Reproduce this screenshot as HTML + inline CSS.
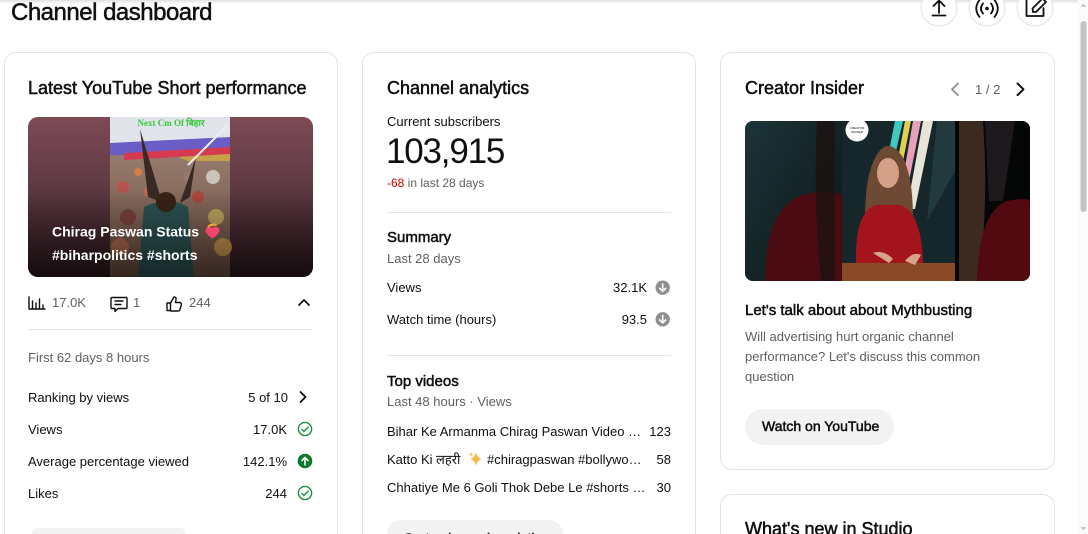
<!DOCTYPE html>
<html><head><meta charset="utf-8">
<style>
*{margin:0;padding:0;box-sizing:border-box}
html,body{width:1088px;height:534px;overflow:hidden;background:#fff}
body{position:relative;font-family:"Liberation Sans","Noto Sans CJK SC",sans-serif;color:#0f0f0f}
.t{position:absolute;white-space:nowrap;line-height:1}
.m{-webkit-text-stroke:0.5px currentColor}
.g{color:#606060}
.card{position:absolute;border:1px solid #e3e3e3;border-radius:12px;background:#fff}
.open{border-bottom:none;border-bottom-left-radius:0;border-bottom-right-radius:0}
.dv{position:absolute;height:1px;background:#e5e5e5}
.btn{position:absolute;background:#f2f2f2;border-radius:18px}
.clipb{position:absolute;overflow:hidden;border-radius:18px 18px 0 0;background:#f2f2f2}
#ov{position:absolute;left:0;top:0}
</style></head><body>

<div class="card open" style="left:4px;top:52px;width:334px;height:482px"></div>
<div class="card open" style="left:362px;top:52px;width:334px;height:482px"></div>
<div class="card" style="left:720px;top:52px;width:335px;height:418px"></div>
<div class="card open" style="left:720px;top:494px;width:335px;height:40px"></div>

<!-- header -->
<div class="t m" style="left:11px;top:1px;font-size:24px;letter-spacing:-0.5px">Channel dashboard</div>

<!-- Card 1 -->
<div class="t m" style="left:28px;top:79px;font-size:18px">Latest YouTube Short performance</div>
<div class="t g" style="left:52px;top:295.5px;font-size:13px">17.0K</div>
<div class="t g" style="left:133px;top:295.5px;font-size:13px">1</div>
<div class="t g" style="left:189px;top:295.5px;font-size:13px">244</div>
<div class="dv" style="left:28px;top:329px;width:285px"></div>
<div class="t g" style="left:28px;top:350.5px;font-size:13px">First 62 days 8 hours</div>
<div class="t" style="left:28px;top:390.5px;font-size:13px">Ranking by views</div>
<div class="t" style="right:800px;top:390.5px;font-size:13px">5 of 10</div>
<div class="t" style="left:28px;top:422.5px;font-size:13px">Views</div>
<div class="t" style="right:801px;top:422.5px;font-size:13px">17.0K</div>
<div class="t" style="left:28px;top:454.5px;font-size:13px">Average percentage viewed</div>
<div class="t" style="right:801px;top:454.5px;font-size:13px">142.1%</div>
<div class="t" style="left:28px;top:486.5px;font-size:13px">Likes</div>
<div class="t" style="right:801px;top:486.5px;font-size:13px">244</div>
<div class="clipb" style="left:32px;top:528px;width:154px;height:6px"></div>

<!-- Card 2 -->
<div class="t m" style="left:387px;top:79px;font-size:18px">Channel analytics</div>
<div class="t" style="left:387px;top:114.5px;font-size:13px">Current subscribers</div>
<div class="t" style="left:386px;top:133.5px;font-size:35px;letter-spacing:-1.2px">103,915</div>
<div class="t g" style="left:387px;top:177px;font-size:12px"><span style="color:#cc0000">-68</span> in last 28 days</div>
<div class="dv" style="left:387px;top:212px;width:284px"></div>
<div class="t m" style="left:387px;top:230px;font-size:15px">Summary</div>
<div class="t g" style="left:387px;top:251.8px;font-size:13px">Last 28 days</div>
<div class="t" style="left:387px;top:281.2px;font-size:13px">Views</div>
<div class="t" style="right:441px;top:281.2px;font-size:13px">32.1K</div>
<div class="t" style="left:387px;top:312.8px;font-size:13px">Watch time (hours)</div>
<div class="t" style="right:441px;top:312.8px;font-size:13px">93.5</div>
<div class="dv" style="left:387px;top:355px;width:284px"></div>
<div class="t m" style="left:387px;top:373.5px;font-size:15px">Top videos</div>
<div class="t g" style="left:387px;top:395.2px;font-size:13px">Last 48 hours · Views</div>
<div class="t" style="left:387px;top:425.2px;font-size:13px">Bihar Ke Armanma Chirag Paswan Video …</div>
<div class="t" style="right:417px;top:425.2px;font-size:13px">123</div>
<div class="t" style="left:387px;top:452.8px;font-size:13px">Katto Ki</div>
<div class="t" style="left:436px;top:452.8px;font-size:13px">लहरी</div>
<div class="t" style="left:487px;top:452.8px;font-size:13px">#chiragpaswan #bollywo…</div>
<div class="t" style="right:417px;top:452.8px;font-size:13px">58</div>
<div class="t" style="left:387px;top:480.8px;font-size:13px">Chhatiye Me 6 Goli Thok Debe Le #shorts …</div>
<div class="t" style="right:417px;top:480.8px;font-size:13px">30</div>
<div class="clipb" style="left:387px;top:520px;width:176px;height:14px">
  <div class="t m" style="left:16px;top:11px;font-size:14px">Go to channel analytics</div>
</div>

<!-- Card 3 -->
<div class="t m" style="left:745px;top:79px;font-size:18px">Creator Insider</div>
<div class="t g" style="left:975px;top:82.5px;font-size:13px">1 / 2</div>
<div class="t m" style="left:745px;top:302.5px;font-size:15px">Let's talk about about Mythbusting</div>
<div class="t g" style="left:745px;top:329.5px;font-size:13px">Will advertising hurt organic channel</div>
<div class="t g" style="left:745px;top:350px;font-size:13px">performance? Let's discuss this common</div>
<div class="t g" style="left:745px;top:370px;font-size:13px">question</div>
<div class="btn" style="left:745px;top:409px;width:149px;height:36px"></div>
<div class="t m" style="left:762px;top:419px;font-size:14px">Watch on YouTube</div>
<div style="position:absolute;left:745px;top:518px;width:300px;height:16px;overflow:hidden">
  <div class="t m" style="left:0;top:2px;font-size:18px">What's new in Studio</div>
</div>

<svg id="ov" width="1088" height="534" viewBox="0 0 1088 534">
<defs>
  <linearGradient id="topsh" x1="0" y1="0" x2="0" y2="1">
    <stop offset="0" stop-color="#000" stop-opacity=".12"/><stop offset="1" stop-color="#000" stop-opacity="0"/>
  </linearGradient>
  <linearGradient id="mar" x1="0" y1="0" x2="0" y2="1">
    <stop offset="0" stop-color="#7c4a55"/><stop offset=".5" stop-color="#5b3740"/><stop offset="1" stop-color="#2a171b"/>
  </linearGradient>
  <linearGradient id="crowd" x1="0" y1="0" x2="0" y2="1">
    <stop offset="0" stop-color="#a48a7c"/><stop offset="1" stop-color="#6a4d40"/>
  </linearGradient>
  <linearGradient id="shade" x1="0" y1="0" x2="0" y2="1">
    <stop offset="0" stop-color="#000" stop-opacity="0"/><stop offset="1" stop-color="#000" stop-opacity=".5"/>
  </linearGradient>
  <linearGradient id="tealbg" x1="0" y1="0" x2="1" y2="1">
    <stop offset="0" stop-color="#1d3438"/><stop offset="1" stop-color="#0b1517"/>
  </linearGradient>
  <clipPath id="c1"><rect width="285" height="160" rx="10"/></clipPath>
  <clipPath id="c3"><rect width="285" height="160" rx="8"/></clipPath>
</defs>

<rect x="0" y="0" width="1078" height="4" fill="url(#topsh)"/>

<g fill="#fff" stroke="#e2e2e2">
  <circle cx="939" cy="8" r="18"/><circle cx="987" cy="8" r="18"/><circle cx="1035" cy="8" r="18"/>
</g>
<g fill="none" stroke="#0f0f0f" stroke-width="1.8" stroke-linecap="round" stroke-linejoin="round">
  <path d="M932.5 15.5h13M939 13V0.5M933.5 6l5.5-5.5 5.5 5.5"/>
  <path d="M983 3.5q-4 5 0 10M991 3.5q4 5 0 10M979.5 0q-6.5 8.5 0 17M994.5 0q6.5 8.5 0 17"/>
  <path d="M1034 -1h-7.5v17h17v-8"/>
  <path d="M1033 12l-0.5-3.5 10-10 3.5 3.5-10 10z"/>
</g>
<circle cx="987" cy="8.5" r="1.8" fill="#0f0f0f"/>

<!-- Card 1 thumbnail -->
<g transform="translate(28,117)">
 <g clip-path="url(#c1)">
  <rect width="285" height="160" fill="url(#mar)"/>
  <rect x="82" width="120" height="160" fill="url(#crowd)"/>
  <rect x="82" width="120" height="30" fill="#e2e4ec"/>
  <polygon points="82,26 202,20 202,36 150,40 82,38" fill="#6a5ec6"/>
  <polygon points="96,36 202,30 202,37 96,43" fill="#d63a4e"/>
  <polygon points="150,40 202,37 202,44 160,44" fill="#c7a04a"/>
  <g opacity=".85">
   <circle cx="95" cy="70" r="6" fill="#c0504a"/><circle cx="185" cy="60" r="7" fill="#d8d2c8"/>
   <circle cx="170" cy="80" r="6" fill="#b84238"/><circle cx="100" cy="100" r="8" fill="#7a3c3a"/>
   <circle cx="188" cy="100" r="8" fill="#c8b060"/><circle cx="110" cy="55" r="4" fill="#e08040"/>
   <circle cx="160" cy="60" r="5" fill="#9a7a70"/><circle cx="92" cy="130" r="9" fill="#b76a50"/>
   <circle cx="195" cy="130" r="9" fill="#d0a050"/><circle cx="120" cy="75" r="5" fill="#c56a58"/>
  </g>
  <path d="M112 12l8 68 14 5z" fill="#3a2a24"/>
  <path d="M168 40l-6 40 -10 6z" fill="#3a2a24"/>
  <path d="M116 90q24-12 44 0l6 70h-56z" fill="#2c5252"/>
  <circle cx="138" cy="85" r="10" fill="#3a2318"/>
  <line x1="160" y1="48" x2="200" y2="8" stroke="#eee" stroke-width="2"/>
  <text x="143" y="9" font-size="9" fill="#35c93a" text-anchor="middle" font-family="Liberation Serif, serif" font-weight="bold">Next Cm Of बिहार</text>
  <rect y="70" width="285" height="90" fill="url(#shade)"/>
 </g>
 <text x="24" y="119.7" font-size="14" font-weight="bold" fill="#fff" font-family="Liberation Sans, sans-serif">Chirag Paswan Status</text>
 <text x="24" y="143" font-size="14" font-weight="bold" fill="#fff" font-family="Liberation Sans, sans-serif">#biharpolitics #shorts</text>
 <path d="M184.5 121.5c-7-4.5-8-8-6-10.5 1.8-2.2 4.6-1.6 6 0.5 1.4-2.1 4.2-2.7 6-0.5 2 2.5 1 6-6 10.5z" fill="#f2456c"/>
 <path d="M180 110q4-4 4.5-1q1-3 4-0.5" stroke="#f8a030" stroke-width="2" fill="none"/>
</g>

<g fill="none" stroke="#0f0f0f" stroke-width="1.4" stroke-linecap="round" stroke-linejoin="round">
  <path d="M29 297v12h16M32.5 301v8M36 303v6M39.5 299v10M43 305v4"/>
  <path d="M112 297.5h14a1 1 0 0 1 1 1v9a1 1 0 0 1-1 1h-8l-3 3v-3h-3a1 1 0 0 1-1-1v-9a1 1 0 0 1 1-1zM115 301h8M115 304.5h6"/>
  <path d="M167 303h3.5v7.5h-3.5zM170.5 303l3.5-6c1.8 0 2.3 1 2 2.5l-0.6 3h4.2c1.2 0 2 1.1 1.7 2.3l-1.4 4.8c-.3.9-1 1.4-2 1.4h-7.4"/>
  <path d="M299 305l5-5 5 5" stroke-width="1.8"/>
  <path d="M300.5 392l5 5-5 5" stroke-width="1.8"/>
</g>
<g fill="none" stroke="#1e8e3e" stroke-width="1.4" stroke-linecap="round" stroke-linejoin="round">
  <circle cx="305" cy="429" r="6.6"/><path d="M301.8 429.2l2.2 2.3 4.2-4.4"/>
  <circle cx="305" cy="493" r="6.6"/><path d="M301.8 493.2l2.2 2.3 4.2-4.4"/>
</g>
<circle cx="305" cy="461" r="7.3" fill="#0b7a2b"/>
<path d="M305 465v-7.5M302 460.5l3-3 3 3" stroke="#fff" stroke-width="1.6" fill="none" stroke-linecap="round" stroke-linejoin="round"/>

<circle cx="662.7" cy="287.7" r="7.2" fill="#909090"/>
<circle cx="662.7" cy="319.3" r="7.2" fill="#909090"/>
<g stroke="#fff" stroke-width="1.6" fill="none" stroke-linecap="round" stroke-linejoin="round">
  <path d="M662.7 284v7.2M659.7 288.3l3 3 3-3"/>
  <path d="M662.7 315.6v7.2M659.7 319.9l3 3 3-3"/>
</g>
<path d="M476 452.5q1.2 5 5.5 6.5q-4.3 1.5-5.5 6.5q-1.2-5-5.5-6.5q4.3-1.5 5.5-6.5z" fill="#f8b940"/>
<path d="M471 452q.5 2 2 2.5q-1.5.5-2 2.5q-.5-2-2-2.5q1.5-.5 2-2.5z" fill="#f8c860"/>

<path d="M958 83.5l-6 5.8 6 5.8" stroke="#909090" stroke-width="1.8" fill="none" stroke-linecap="round" stroke-linejoin="round"/>
<path d="M1017.5 83.5l6 5.8-6 5.8" stroke="#0f0f0f" stroke-width="2" fill="none" stroke-linecap="round" stroke-linejoin="round"/>

<!-- Card 3 image -->
<g transform="translate(745,121)" clip-path="url(#c3)">
  <rect width="285" height="160" fill="#070909"/>
  <rect width="97" height="160" fill="url(#tealbg)"/>
  <path d="M20 160q0-80 45-88q20-3 32 2v86z" fill="#4a0c12"/>
  <path d="M72 0h18v160h-14q-8-80-4-160z" fill="#1a1310" opacity=".8"/>
  <rect x="97" width="113" height="160" fill="#15272a"/>
  <path d="M150 0h8l-14 60h-6z" fill="#3fc9c0"/>
  <path d="M160 0h6l-14 70h-5z" fill="#e0d050"/>
  <path d="M168 0h8l-16 80h-6z" fill="#e8a0b8"/>
  <path d="M178 0h10l-18 88h-8z" fill="#e8e4d8"/>
  <path d="M192 0h18v50l-28 50z" fill="#22393e"/>
  <path d="M121 120q-4-60 10-85q12-20 26 0q14 25 10 85z" fill="#6e4a34"/>
  <ellipse cx="143" cy="52" rx="11" ry="15" fill="#d4a088"/>
  <path d="M112 160q-6-70 20-76h22q26 6 24 76z" fill="#a3141d"/>
  <rect x="97" y="142" width="113" height="18" fill="#8a4a28"/>
  <path d="M128 132q10-4 20 6l-4 4z" fill="#d7a48a"/>
  <path d="M160 140q8-10 16-6l-6 10z" fill="#d7a48a"/>
  <rect x="210" width="75" height="160" fill="#050606"/>
  <path d="M214 0h24q6 80-4 160h-20z" fill="#3a2a1f"/>
  <path d="M232 160q2-70 30-80q20-4 23 0v80z" fill="#52090f"/>
  <path d="M240 0h30l-12 80h-14z" fill="#2a2226" opacity=".7"/>
  <circle cx="112" cy="9" r="11.5" fill="#fafafa"/>
  <text x="112" y="8" font-size="3" text-anchor="middle" fill="#222" font-family="Liberation Sans, sans-serif">CREATOR</text>
  <text x="112" y="12" font-size="3" text-anchor="middle" fill="#222" font-family="Liberation Sans, sans-serif">INSIDER</text>
</g>

<rect x="1078" y="0" width="10" height="534" fill="#fbfbfb"/>
<path d="M1080.5 7l3-3.5 3 3.5z" fill="#c8c8c8"/>
<rect x="1080.5" y="21" width="6" height="191" rx="3" fill="#c3c3c3"/>
<path d="M1080.5 527l3 3.5 3-3.5z" fill="#c8c8c8"/>
</svg>
</body></html>
